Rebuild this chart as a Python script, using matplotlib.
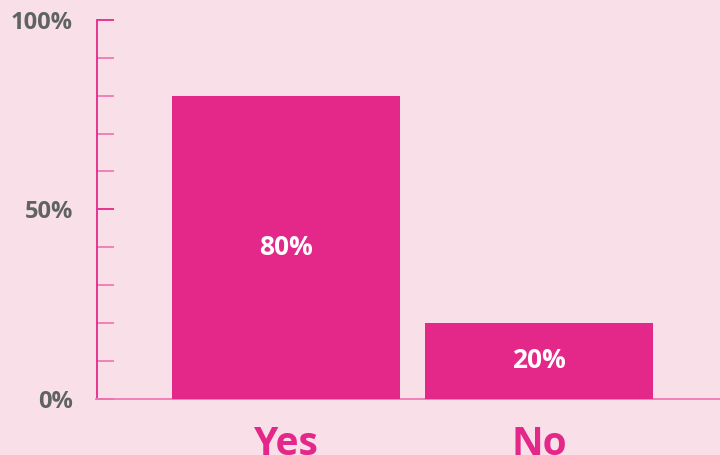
import matplotlib.pyplot as plt
from matplotlib.ticker import MultipleLocator

# data
categories = ["Yes", "No"]
values = [80, 20]
y_ticks = [0, 50, 100]
y_tick_labels = ["0%", "50%", "100%"]

bg = "#f9e0e8"
pink = "#e4288a"
light_pink = "#f07ab5"
grey = "#5f6361"

plt.rcParams['font.family'] = ['Open Sans', 'DejaVu Sans']

fig = plt.figure(figsize=(7.2, 4.55), dpi=100, facecolor=bg)
ax = fig.add_axes([96.5 / 720, 1 - 398.5 / 455, 1 - 96.5 / 720, (398.5 - 20) / 455])
ax.set_facecolor(bg)

x = list(range(len(categories)))
bars = ax.bar(x, values, width=0.9, color=pink, zorder=3)
for b, v in zip(bars, values):
    ax.text(b.get_x() + b.get_width() / 2, v / 2, f"{v}%", ha="center", va="center",
            color="white", fontsize=19, fontweight="bold", zorder=4)

ax.set_xlim(-0.749, 1.715)
ax.set_ylim(0, 100)

ax.set_xticks(x)
ax.set_xticklabels(categories, fontsize=28, fontweight="bold", color=pink)
ax.tick_params(axis="x", length=0, pad=19)

ax.set_yticks(y_ticks)
ax.set_yticklabels(y_tick_labels, fontsize=17, fontweight="bold", color=grey)
ax.yaxis.set_minor_locator(MultipleLocator(10))
ax.tick_params(axis="y", which="both", direction="in", length=12, width=1.3,
               color=light_pink, pad=17)
ax.tick_params(axis="y", which="major", color=pink)

for s in ["top", "right"]:
    ax.spines[s].set_visible(False)
ax.spines["left"].set_color(pink)
ax.spines["left"].set_linewidth(1.3)
ax.spines["bottom"].set_color(light_pink)
ax.spines["bottom"].set_linewidth(1.3)

fig.savefig("out.png", dpi=100, facecolor=bg)
